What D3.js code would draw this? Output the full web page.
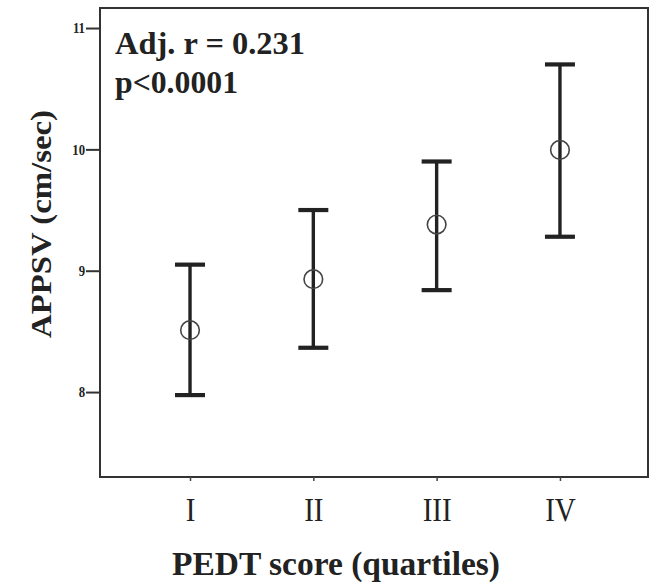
<!DOCTYPE html>
<html>
<head>
<meta charset="utf-8">
<script src="https://cdn.jsdelivr.net/npm/d3@7"></script>
<style>
  body { margin: 0; background: #fff; }
  text { font-family: "Liberation Serif", "Times New Roman", serif; fill: #222; }
</style>
</head>
<body>
<div id="chart"></div>
<script>
const quartiles = ['I', 'II', 'III', 'IV'];
const means = [8.51, 8.93, 9.38, 9.995];
const upper = [9.05, 9.50, 9.90, 10.70];
const lower = [7.975, 8.365, 8.84, 9.28];
const yTicks = [8, 9, 10, 11];

const width = 653, height = 586;
const margin = { top: 8, right: 5, bottom: 109, left: 100 };
const boundedWidth = width - margin.left - margin.right;
const boundedHeight = height - margin.top - margin.bottom;

const svg = d3.select('#chart').append('svg')
  .attr('width', width)
  .attr('height', height);

const g = svg.append('g')
  .attr('transform', `translate(${margin.left}, ${margin.top})`);

// Scales
const xScale = d3.scaleLinear()
  .domain([-0.73, 3.714])
  .range([0, boundedWidth]);

const yScale = d3.scaleLinear()
  .domain([7.30, 11.165])
  .range([boundedHeight, 0]);

// frame
g.append('rect')
  .attr('width', boundedWidth)
  .attr('height', boundedHeight)
  .attr('fill', 'none')
  .attr('stroke', '#333')
  .attr('stroke-width', 2);

// y axis
const yAxis = g.append('g')
  .call(d3.axisLeft(yScale).tickValues(yTicks).tickSize(14).tickPadding(1).tickFormat(d3.format('d')));
yAxis.select('.domain').remove();
yAxis.selectAll('line').attr('stroke', '#333').attr('stroke-width', 2);
yAxis.selectAll('text')
  .style('font-family', '"Liberation Serif", serif')
  .style('font-size', '15px')
  .style('font-weight', 700)
  .attr('fill', '#555')
  .attr('textLength', function () { return this.getComputedTextLength() * 0.85; })
  .attr('lengthAdjust', 'spacingAndGlyphs');

// x axis
const xAxis = g.append('g')
  .attr('transform', `translate(0, ${boundedHeight})`)
  .call(d3.axisBottom(xScale).tickValues(d3.range(quartiles.length)).tickSize(4).tickPadding(17).tickFormat(i => quartiles[i]));
xAxis.select('.domain').remove();
xAxis.selectAll('line').attr('stroke', '#444').attr('stroke-width', 1.5);
xAxis.selectAll('text')
  .style('font-family', '"Liberation Serif", serif')
  .style('font-size', '33px')
  .attr('fill', '#333')
  .attr('textLength', function () { return this.getComputedTextLength() * 0.88; })
  .attr('lengthAdjust', 'spacingAndGlyphs');

// error bars
const bars = g.selectAll('.errbar')
  .data(quartiles.map((q, i) => ({ q, i, m: means[i], hi: upper[i], lo: lower[i] })))
  .join('g')
  .attr('class', 'errbar');

bars.append('line')
  .attr('x1', d => xScale(d.i)).attr('x2', d => xScale(d.i))
  .attr('y1', d => yScale(d.hi)).attr('y2', d => yScale(d.lo))
  .attr('stroke', '#222').attr('stroke-width', 3.4);

bars.selectAll('.cap')
  .data(d => [d.hi, d.lo].map(v => ({ i: d.i, v })))
  .join('line')
  .attr('class', 'cap')
  .attr('x1', d => xScale(d.i) - 15).attr('x2', d => xScale(d.i) + 15)
  .attr('y1', d => yScale(d.v)).attr('y2', d => yScale(d.v))
  .attr('stroke', '#222').attr('stroke-width', 4.2);

bars.append('circle')
  .attr('cx', d => xScale(d.i))
  .attr('cy', d => yScale(d.m))
  .attr('r', 9.3)
  .attr('fill', 'none')
  .attr('stroke', '#444')
  .attr('stroke-width', 1.6);

// annotation
g.append('text')
  .attr('x', 15).attr('y', 46)
  .attr('font-weight', 700)
  .style('font-size', '32px')
  .attr('textLength', 190)
  .attr('lengthAdjust', 'spacingAndGlyphs')
  .text('Adj. r = 0.231');
g.append('text')
  .attr('x', 15).attr('y', 85)
  .attr('font-weight', 700)
  .style('font-size', '32px')
  .attr('textLength', 123)
  .attr('lengthAdjust', 'spacingAndGlyphs')
  .text('p<0.0001');

// axis titles
svg.append('text')
  .attr('text-anchor', 'middle')
  .attr('x', 336).attr('y', 575)
  .attr('font-weight', 700)
  .style('font-size', '33px')
  .attr('textLength', 328)
  .attr('lengthAdjust', 'spacingAndGlyphs')
  .text('PEDT score (quartiles)');

svg.append('text')
  .attr('transform', 'rotate(-90)')
  .attr('text-anchor', 'middle')
  .attr('x', -224).attr('y', 51)
  .attr('font-weight', 700)
  .style('font-size', '30px')
  .attr('textLength', 228)
  .attr('lengthAdjust', 'spacingAndGlyphs')
  .text('APPSV (cm/sec)');
</script>
</body>
</html>
